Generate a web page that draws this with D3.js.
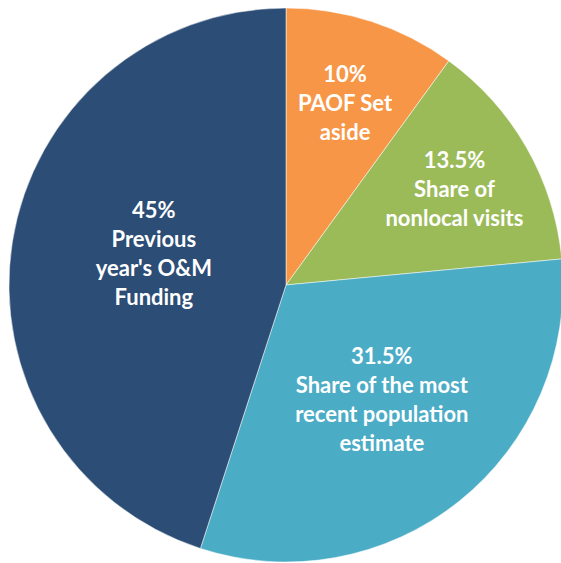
<!DOCTYPE html>
<html>
<head>
<meta charset="utf-8">
<script src="https://cdn.jsdelivr.net/npm/d3@7"></script>
<style>
  body { margin: 0; background: #fff; }
  text { font-family: Lato, "Open Sans", sans-serif; font-weight: bold; fill: #fff; }
</style>
</head>
<body>
<div id="chart"></div>
<script>
// slices, clockwise from 12 o'clock
const categories = ["PAOF Set aside", "Share of nonlocal visits", "Share of the most recent population estimate", "Previous year's O&M Funding"];
const values = [10, 13.5, 31.5, 45];
const pctLabels = ["10%", "13.5%", "31.5%", "45%"];
const labelLines = [
  ["PAOF Set", "aside"],
  ["Share of", "nonlocal visits"],
  ["Share of the most", "recent population", "estimate"],
  ["Previous", "year's O&M", "Funding"]
];
const colors = ["#F79646", "#9BBB59", "#4BACC6", "#2C4D75"];

const width = 561, height = 563;
const cx = 286, cy = 285, radius = 277;
// where each label block sits: fraction of radius, and angle nudge (radians)
const labelRadius = [0.69, 0.70, 0.54, 0.49];
const labelShift = [0, 0, -0.02, 0.073];
const lineHeight = 29;

const svg = d3.select("#chart")
  .append("svg")
  .attr("width", width)
  .attr("height", height)
  .append("g")
  .attr("transform", "translate(" + cx + "," + cy + ")");

const pie = d3.pie().sort(null).value(d => d);
const arcs = pie(values);

const arc = d3.arc().innerRadius(0).outerRadius(radius);

svg.selectAll(".slice")
  .data(arcs)
  .enter()
  .append("path")
  .attr("class", "slice")
  .attr("d", arc)
  .attr("fill", (d, i) => colors[i])
  .attr("stroke", "#fff")
  .attr("stroke-width", 0.5);

const labels = svg.selectAll(".label")
  .data(arcs)
  .enter()
  .append("text")
  .attr("class", "label")
  .attr("text-anchor", "middle")
  .attr("font-size", 22)
  .attr("transform", (d, i) => {
    const r = radius * labelRadius[i];
    const a = (d.startAngle + d.endAngle) / 2 + labelShift[i];
    return "translate(" + (r * Math.sin(a)) + "," + (-r * Math.cos(a)) + ")";
  });

labels.each(function (d, i) {
  const lines = [pctLabels[i]].concat(labelLines[i]);
  const top = -(lines.length - 1) * lineHeight / 2;
  d3.select(this).selectAll("tspan")
    .data(lines)
    .enter()
    .append("tspan")
    .attr("x", 0)
    .attr("y", (l, j) => top + j * lineHeight)
    .attr("dy", "0.35em")
    .text(l => l);
});
</script>
</body>
</html>
